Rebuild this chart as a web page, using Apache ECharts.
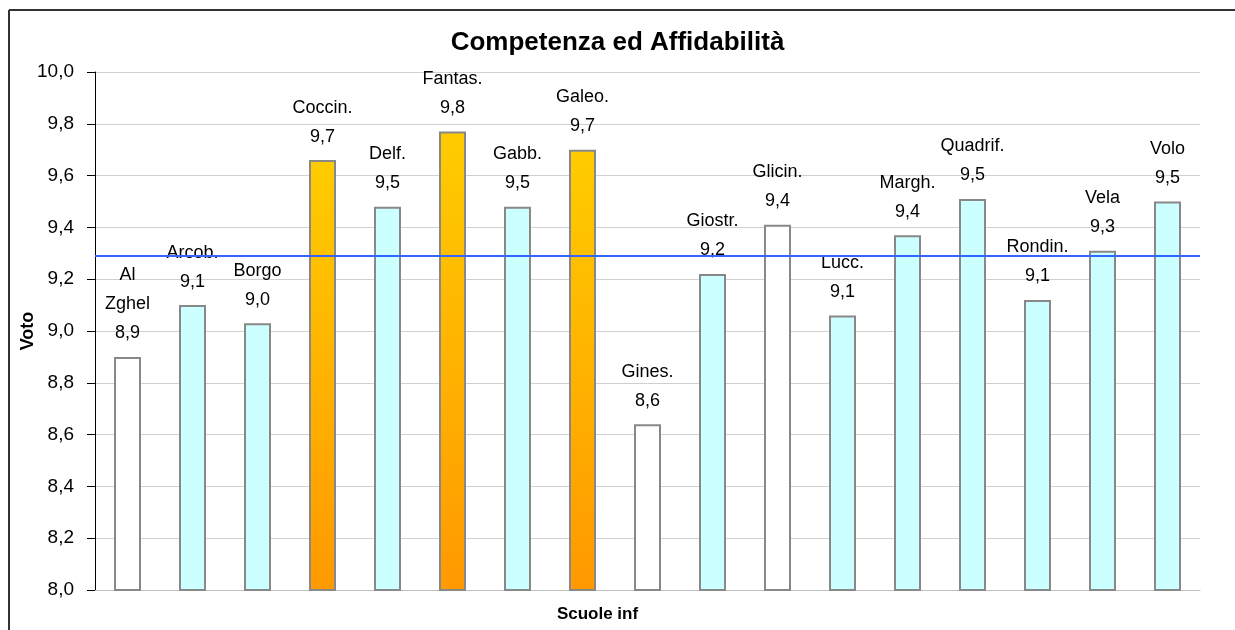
<!DOCTYPE html>
<html>
<head>
    <meta charset="utf-8">
    <title>Competenza ed Affidabilità</title>
    <script src="https://cdn.jsdelivr.net/npm/echarts@6/dist/echarts.min.js"></script>
    <style>
        html, body { margin: 0; padding: 0; background: #fff; }
    </style>
</head>
<body>
    <div id="chart" style="width: 1235px;height:630px;"></div>
    <script type="text/javascript">
        // dati
        var scuole = ['Al Zghel', 'Arcob.', 'Borgo', 'Coccin.', 'Delf.', 'Fantas.', 'Gabb.', 'Galeo.', 'Gines.',
            'Giostr.', 'Glicin.', 'Lucc.', 'Margh.', 'Quadrif.', 'Rondin.', 'Vela', 'Volo'];
        var etichette = ['Al\nZghel', 'Arcob.', 'Borgo', 'Coccin.', 'Delf.', 'Fantas.', 'Gabb.', 'Galeo.', 'Gines.',
            'Giostr.', 'Glicin.', 'Lucc.', 'Margh.', 'Quadrif.', 'Rondin.', 'Vela', 'Volo'];
        var voti = [8.90, 9.10, 9.03, 9.66, 9.48, 9.77, 9.48, 9.70, 8.64, 9.22, 9.41, 9.06, 9.37, 9.51, 9.12, 9.31, 9.50];
        // tipo di barra: 0 bianca, 1 azzurra, 2 arancio
        var tipo = [0, 1, 1, 2, 1, 2, 1, 2, 0, 1, 0, 1, 1, 1, 1, 1, 1];
        var media = 9.29;

        var chart = echarts.init(document.getElementById('chart'));

        var arancio = new echarts.graphic.LinearGradient(0, 0, 0, 1, [
            { offset: 0, color: '#ffcc00' },
            { offset: 1, color: '#ff9900' }
        ]);
        var colori = ['#ffffff', '#ccffff', arancio];

        var dati = voti.map(function (v, i) {
            return {
                value: v,
                itemStyle: { color: colori[tipo[i]] }
            };
        });

        var option = {
            backgroundColor: '#ffffff',
            textStyle: { fontFamily: 'Liberation Sans, Arial, sans-serif' },
            title: {
                text: 'Competenza ed Affidabilità',
                left: 'center',
                top: 25,
                textStyle: { fontSize: 26, fontWeight: 'bold', color: '#000', fontFamily: 'Liberation Sans' }
            },
            graphic: [
                { type: 'line', shape: { x1: 9, y1: 10, x2: 1235, y2: 10 }, style: { stroke: '#333', lineWidth: 2 } },
                { type: 'line', shape: { x1: 9, y1: 10, x2: 9, y2: 630 }, style: { stroke: '#333', lineWidth: 2 } }
            ],
            grid: { left: 95, right: 35, top: 72, bottom: 40 },
            xAxis: {
                type: 'category',
                data: scuole,
                name: 'Scuole inf',
                nameLocation: 'middle',
                nameGap: 16,
                nameMoveOverlap: false,
                nameTextStyle: { fontSize: 17, fontWeight: 'bold', color: '#000', padding: [0, 100, 0, 0] },
                axisLine: { lineStyle: { color: '#c0c0c0', width: 1 } },
                axisTick: { show: false },
                axisLabel: { show: false }
            },
            yAxis: {
                type: 'value',
                min: 8,
                max: 10,
                interval: 0.2,
                name: 'Voto',
                nameLocation: 'middle',
                nameGap: 58,
                nameMoveOverlap: false,
                nameTextStyle: { fontSize: 18, fontWeight: 'bold', color: '#000' },
                axisLine: { show: true, lineStyle: { color: '#000', width: 1 } },
                axisTick: { show: true, inside: false, length: 8, lineStyle: { color: '#000' } },
                axisLabel: {
                    fontSize: 19,
                    color: '#000',
                    margin: 21,
                    formatter: function (v) { return v.toFixed(1).replace('.', ','); }
                },
                splitLine: { lineStyle: { color: '#d0d0d0', width: 1 } }
            },
            series: [{
                type: 'bar',
                data: dati,
                barWidth: 27,
                itemStyle: { borderColor: '#888888', borderWidth: 2 },
                label: {
                    show: true,
                    position: 'top',
                    distance: 9,
                    fontSize: 18,
                    lineHeight: 29,
                    color: '#000',
                    formatter: function (p) {
                        return etichette[p.dataIndex] + '\n' + p.value.toFixed(1).replace('.', ',');
                    }
                },
                markLine: {
                    silent: true,
                    symbol: 'none',
                    label: { show: false },
                    lineStyle: { color: '#3366ff', width: 2, type: 'solid' },
                    data: [{ yAxis: media }]
                }
            }]
        };

        chart.setOption(option);
    </script>
</body>
</html>
